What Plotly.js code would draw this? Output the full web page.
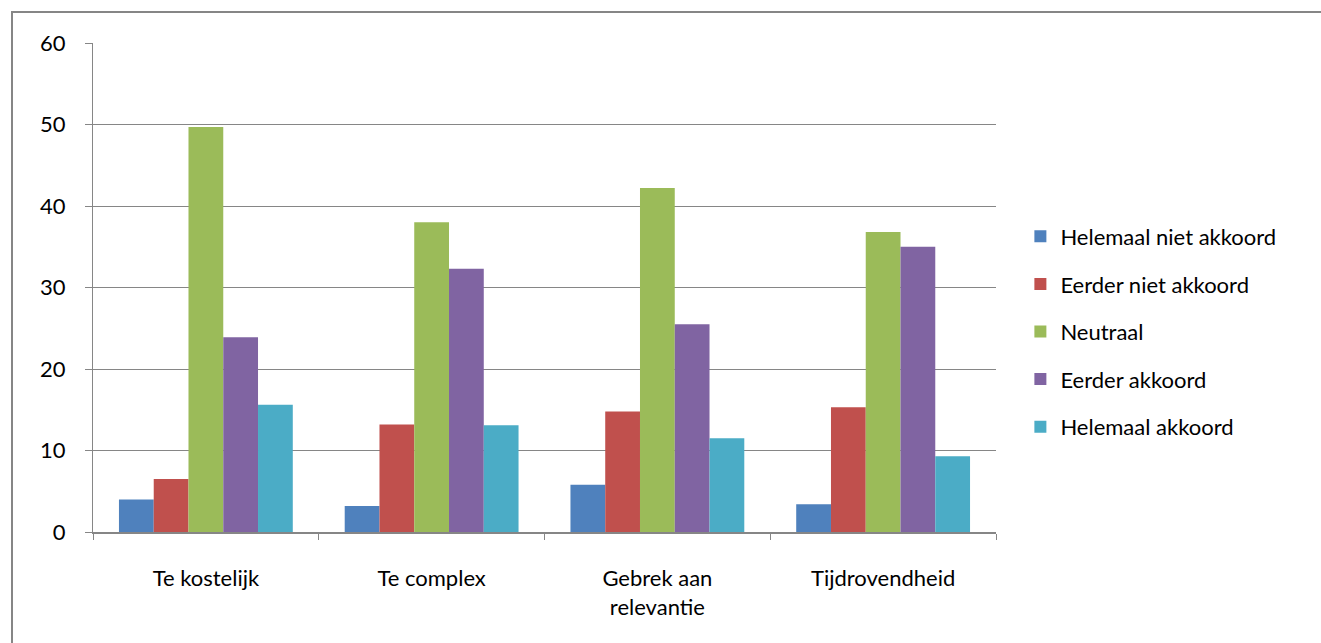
<!DOCTYPE html>
<html>
<head>
<meta charset="utf-8">
<script src="https://cdn.plot.ly/plotly-3.0.1.min.js"></script>
<style>
  html, body { margin: 0; padding: 0; background: #fff; overflow: hidden; }
  #frame { position: absolute; left: 0; top: 0; width: 1321px; height: 643px; }
  #edge { position: absolute; left: 11px; top: 11px; width: 1400px; height: 700px;
          border-left: 2px solid #868686; border-top: 2px solid #868686; pointer-events: none; }
  #chart { position: absolute; left: 0; top: 0; width: 1321px; height: 643px; }
</style>
</head>
<body>
<div id="frame">
  <div id="chart"></div>
  <div id="edge"></div>
</div>
<script>
// Survey categories (x axis)
const categories = ["Te kostelijk", "Te complex", "Gebrek aan<br>relevantie", "Tijdrovendheid"];

// Answer series
const seriesNames = ["Helemaal niet akkoord", "Eerder niet akkoord", "Neutraal", "Eerder akkoord", "Helemaal akkoord"];
const helemaalNietAkkoord = [4.0, 3.2, 5.8, 3.4];
const eerderNietAkkoord   = [6.5, 13.2, 14.8, 15.3];
const neutraal            = [49.7, 38.0, 42.2, 36.8];
const eerderAkkoord       = [23.9, 32.3, 25.5, 35.0];
const helemaalAkkoord     = [15.6, 13.1, 11.5, 9.3];

const seriesValues = [helemaalNietAkkoord, eerderNietAkkoord, neutraal, eerderAkkoord, helemaalAkkoord];
const seriesColors = ["#4f81bd", "#c0504d", "#9bbb59", "#8064a2", "#4bacc6"];

const yTicks = [0, 10, 20, 30, 40, 50, 60];

const fontFamily = "Lato, 'Open Sans', sans-serif";
const fontSize = 22;
const gridGray = "#868686";

const traces = seriesNames.map((name, i) => ({
  type: "bar",
  name: name,
  x: categories,
  y: seriesValues[i],
  marker: { color: seriesColors[i], line: { width: 0 } },
  legendgroup: "g" + i,
  hoverinfo: "x+y+name"
}));

const layout = {
  width: 1321,
  height: 643,
  margin: { l: 93, r: 325, t: 43, b: 111, pad: 0 },
  paper_bgcolor: "#ffffff",
  plot_bgcolor: "#ffffff",
  font: { family: fontFamily, size: fontSize, color: "#000000" },
  barmode: "group",
  bargap: 0.23,
  bargroupgap: 0,
  showlegend: true,
  legend: {
    x: 1.027, xanchor: "left",
    y: 0.41, yanchor: "middle",
    font: { family: fontFamily, size: fontSize, color: "#000000" },
    tracegroupgap: 16,
    itemwidth: 30,
    bgcolor: "rgba(0,0,0,0)"
  },
  xaxis: {
    type: "category",
    tickson: "boundaries",
    ticks: "outside",
    ticklen: 6,
    tickwidth: 1,
    tickcolor: gridGray,
    showline: true,
    linecolor: gridGray,
    linewidth: 2,
    showgrid: false,
    zeroline: false,
    ticklabelstandoff: 26,
    tickfont: { family: fontFamily, size: fontSize, color: "#000000" }
  },
  yaxis: {
    range: [0, 60],
    tickvals: yTicks,
    ticktext: yTicks.map(String),
    ticks: "outside",
    ticklen: 7,
    tickwidth: 1,
    tickcolor: gridGray,
    showline: true,
    linecolor: gridGray,
    linewidth: 1,
    showgrid: true,
    gridcolor: gridGray,
    gridwidth: 1,
    zeroline: false,
    ticklabelstandoff: 15,
    tickfont: { family: fontFamily, size: fontSize, color: "#000000" }
  }
};

Plotly.newPlot("chart", traces, layout, { displayModeBar: false, staticPlot: true });
</script>
</body>
</html>
